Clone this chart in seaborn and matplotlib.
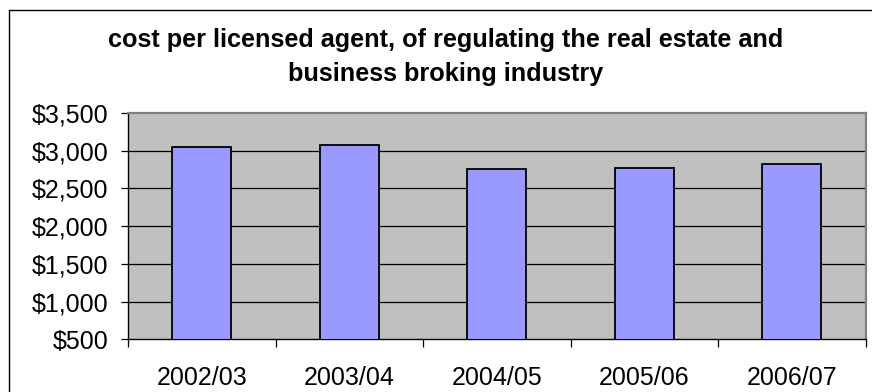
import matplotlib
matplotlib.use("Agg")
import matplotlib.pyplot as plt
import seaborn as sns
import numpy as np
from matplotlib.lines import Line2D
from matplotlib.ticker import FixedLocator, FuncFormatter

periods = ["2002/03", "2003/04", "2004/05", "2005/06", "2006/07"]
costs = [3053, 3076, 2761, 2775, 2820]
y_ticks = [500, 1000, 1500, 2000, 2500, 3000, 3500]
title = "cost per licensed agent, of regulating the real estate and\nbusiness broking industry"

sns.set_theme(style="white")
plt.rcParams["font.family"] = ["Liberation Sans", "DejaVu Sans"]

W, H = 872, 392
fig = plt.figure(figsize=(W / 100, H / 100), dpi=100)
ax = fig.add_axes([128 / W, 1 - 339.3 / H, (865.5 - 128) / W, (339.3 - 113) / H])
ax.set_facecolor("#C0C0C0")

sns.barplot(x=periods, y=costs, color="#9999FF", edgecolor="black",
            linewidth=1.3, width=0.4, saturation=1, ax=ax, zorder=3)

ax.set_ylim(500, 3500)
ax.set_xlim(-0.5, len(periods) - 0.5)
ax.yaxis.set_major_locator(FixedLocator(y_ticks))
ax.yaxis.set_major_formatter(FuncFormatter(lambda v, p: f"${int(v):,}"))
for v in y_ticks[1:-1]:
    ax.axhline(v, color="black", lw=0.9, zorder=1)

ax.set_xlabel("")
ax.set_ylabel("")
ax.tick_params(axis="y", which="major", direction="out", length=5, width=0.9,
               color="black", labelsize=18, pad=9, left=True)
ax.tick_params(axis="x", which="major", length=0, labelsize=18, pad=19)
ax.xaxis.set_minor_locator(FixedLocator(np.arange(-0.5, len(periods), 1.0)))
ax.tick_params(axis="x", which="minor", direction="out", length=6, width=0.9,
               color="black", bottom=True)
for lbl in ax.get_xticklabels() + ax.get_yticklabels():
    lbl.set_color("black")

for side in ["left", "bottom"]:
    ax.spines[side].set_color("black")
    ax.spines[side].set_linewidth(1.0)
for side in ["top", "right"]:
    ax.spines[side].set_visible(True)
    ax.spines[side].set_color("#808080")
    ax.spines[side].set_linewidth(1.6)

fig.text(446 / W, 1 - 57 / H, title, ha="center", va="center",
         fontsize=18.2, fontweight="bold", color="black", linespacing=1.5)

fig.add_artist(Line2D([8.5 / W, 8.5 / W], [1 - 10 / H, 0], transform=fig.transFigure,
                      color="black", lw=1.0))
fig.add_artist(Line2D([8.5 / W, 1], [1 - 10 / H, 1 - 10 / H], transform=fig.transFigure,
                      color="black", lw=1.0))

fig.savefig("out.png", dpi=100)
